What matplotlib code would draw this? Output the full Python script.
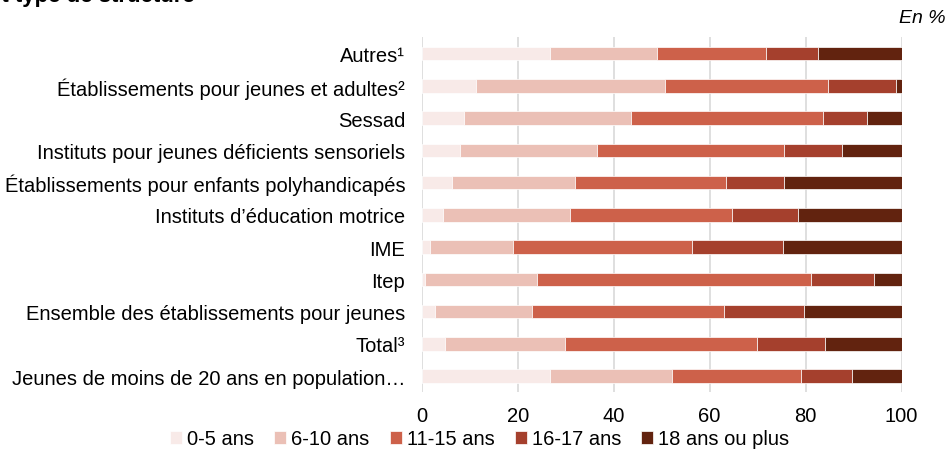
import matplotlib
matplotlib.use('Agg')
import matplotlib.pyplot as plt
import numpy as np

plt.rcParams['font.family'] = ['Liberation Sans', 'DejaVu Sans']

# categories, top to bottom
categories = [
    'Autres¹',
    'Établissements pour jeunes et adultes²',
    'Sessad',
    'Instituts pour jeunes déficients sensoriels',
    'Établissements pour enfants polyhandicapés',
    "Instituts d’éducation motrice",
    'IME',
    'Itep',
    'Ensemble des établissements pour jeunes',
    'Total³',
    'Jeunes de moins de 20 ans en population…',
]

age_labels = ['0-5 ans', '6-10 ans', '11-15 ans', '16-17 ans', '18 ans ou plus']

age_0_5   = [26.8, 11.4,  8.9,  7.9,  6.2,  4.4,  1.8,  0.6,  2.8,  4.9, 26.8]
age_6_10  = [22.3, 39.2, 34.7, 28.7, 25.7, 26.5, 17.3, 23.4, 20.1, 24.9, 25.4]
age_11_15 = [22.6, 34.1, 40.0, 38.9, 31.6, 33.7, 37.2, 57.2, 40.0, 40.0, 26.8]
age_16_17 = [10.8, 14.1,  9.1, 12.1, 12.0, 13.8, 19.0, 13.1, 16.7, 14.2, 10.7]
age_18p   = [17.5,  1.2,  7.3, 12.4, 24.5, 21.6, 24.7,  5.7, 20.4, 16.0, 10.3]

series = [age_0_5, age_6_10, age_11_15, age_16_17, age_18p]
colors = ['#F8EAE8', '#EBC0B6', '#CD614A', '#A5402D', '#62230F']

fig = plt.figure(figsize=(9.5, 4.52), dpi=100)
ax = fig.add_axes([0.444, 0.13, 0.505, 0.785])

y = np.arange(len(categories))
left = np.zeros(len(categories))
for vals, col, lbl in zip(series, colors, age_labels):
    ax.barh(y, vals, left=left, height=0.42, color=col, label=lbl,
            edgecolor='white', linewidth=0.5, zorder=3)
    left += np.array(vals)

ax.set_ylim(len(categories) - 0.5, -0.5)
ax.set_xlim(0, 100)
ax.set_xticks([0, 20, 40, 60, 80, 100])
ax.set_yticks(y)
ax.set_yticklabels(categories, fontsize=14.5)
ax.tick_params(axis='x', labelsize=14.5, length=0, pad=10)
ax.tick_params(axis='y', length=0, pad=12)
ax.grid(axis='x', color='#D9D9D9', linewidth=1.2, zorder=0)
for s in ax.spines.values():
    s.set_visible(False)

fig.text(-0.012, 1.008, 'et type de structure', fontsize=16, fontweight='bold',
         ha='left', va='center')
fig.text(0.995, 0.958, 'En %', fontsize=14, style='italic', ha='right', va='center')

fig.legend(loc='center', bbox_to_anchor=(0.505, 0.027), ncol=5, frameon=False,
           fontsize=14.5, handlelength=0.6, handleheight=0.6, handletextpad=0.25,
           columnspacing=1.0)

fig.savefig('out.png', dpi=100)
